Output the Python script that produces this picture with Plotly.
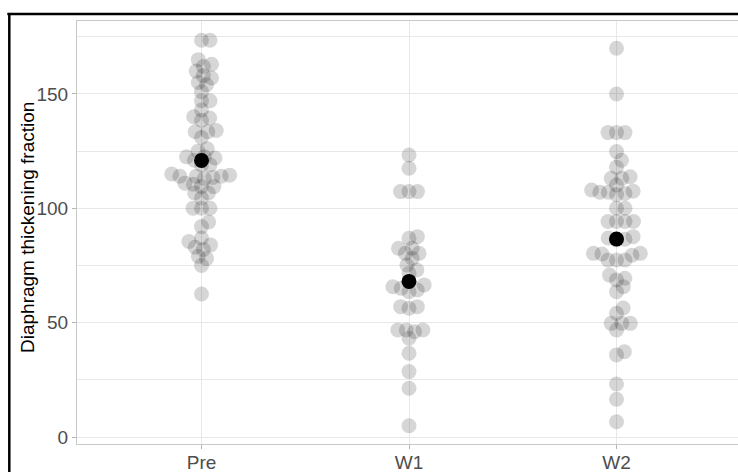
import numpy as np
import plotly.graph_objects as go

# ---------------- data ----------------
categories = ["Pre", "W1", "W2"]

pre_values = [173.5, 173.5, 165, 163, 162, 160, 158, 157, 155, 154, 151, 147, 147,
              143, 140, 139.5, 138.5, 134, 133.5, 133.5, 131, 126, 125, 122, 122.5,
              122.5, 121, 119, 119, 115, 114.5, 114, 114, 114, 113.5, 113, 111, 110.5,
              109.5, 109.5, 106.7, 106.7, 104.5, 100, 100, 100, 94, 92, 87, 85.5, 84,
              83, 82, 79, 78, 75, 62.5]

w1_values = [123.3, 117.5, 107.3, 107.3, 107.3, 87.6, 86.9, 82.5, 82.5, 80.3, 80.3,
             78.1, 75.2, 73, 71.6, 66.5, 65.7, 65, 64.3, 63.5, 57, 57, 56.3, 46.8,
             46.8, 46.8, 46, 43.2, 36.6, 28.6, 21.3, 4.9]

w2_values = [170, 150, 133.1, 133.1, 133.1, 124.8, 121, 118, 113.1, 113.8, 113.1,
             110.2, 107.5, 107, 108, 106.5, 107, 106, 100, 100, 94.2, 94.2, 94.2, 94.2,
             87.6, 87, 86.5, 86.2, 80.3, 80, 79.5, 80.3, 77.4, 77.4, 77.4, 70.8, 69.4,
             68.7, 65.7, 63.5, 56.4, 54.1, 49.7, 49.7, 49.7, 46.8, 37.3, 35.9, 23.2,
             16.5, 6.7]

y_tick_values = [0, 50, 100, 150]
y_title = "Diaphragm thickening fraction"

# ---------------- layout geometry ----------------
W, H = 738, 472
ml, mr, mt, mb = 77, 0, 21, 28
plot_w = W - ml - mr
plot_h = H - mt - mb
cat_px = 207.5
x_range = [0.4, 0.4 + plot_w / cat_px]
y_range = [-3.06, 181.9]
px_per_x = plot_w / (x_range[1] - x_range[0])
px_per_y = plot_h / (y_range[1] - y_range[0])

FONT = "Liberation Sans, Arial, Helvetica, sans-serif"


def swarm_offsets(values, d=8.5):
    """Simple beeswarm: offsets (in x data units) so points sit >= d px apart."""
    vals = np.asarray(values, dtype=float)
    ys = vals * px_per_y
    xs = np.zeros(len(vals))
    placed = []
    for i in np.argsort(vals, kind="stable"):
        y = ys[i]
        cands = [0.0]
        for j in placed:
            dy = abs(y - ys[j])
            if dy < d:
                dx = np.sqrt(d * d - dy * dy)
                cands += [xs[j] + dx, xs[j] - dx]
        cands.sort(key=abs)
        for c in cands:
            if all((c - xs[j]) ** 2 + (y - ys[j]) ** 2 >= d * d - 1e-6 for j in placed):
                xs[i] = c
                break
        placed.append(i)
    return xs / px_per_x


groups = [pre_values, w1_values, w2_values]

fig = go.Figure()

for k, vals in enumerate(groups):
    offs = swarm_offsets(vals)
    fig.add_trace(go.Scatter(
        x=(k + 1) + offs, y=vals, mode="markers",
        marker=dict(size=15, color="rgba(0,0,0,0.16)", line=dict(width=0)),
        showlegend=False, hoverinfo="y"))

means = [float(np.mean(v)) for v in groups]
fig.add_trace(go.Scatter(
    x=[1, 2, 3], y=means, mode="markers",
    marker=dict(size=15, color="black", line=dict(width=0)),
    showlegend=False))

grid_col = "#e8e8e8"
border_col = "#c8c8c8"

fig.update_layout(
    width=W, height=H,
    margin=dict(l=ml, r=mr, t=mt, b=mb, pad=0, autoexpand=False),
    paper_bgcolor="white", plot_bgcolor="white",
    font=dict(family=FONT, size=19, color="#4d4d4d"),
    xaxis=dict(range=x_range, tickvals=[1, 2, 3], ticktext=categories,
               showgrid=True, gridcolor=grid_col, gridwidth=1,
               ticks="outside", ticklen=4, tickcolor="#b3b3b3",
               showline=True, linecolor=border_col, linewidth=1, mirror=True,
               zeroline=False, automargin=False, ticklabelstandoff=-3,
               tickfont=dict(size=19, color="#4d4d4d")),
    yaxis=dict(range=y_range, tickvals=y_tick_values,
               showgrid=True, gridcolor=grid_col, gridwidth=1,
               minor=dict(dtick=25, tick0=25, showgrid=True, gridcolor=grid_col, gridwidth=1),
               ticks="outside", ticklen=4, tickcolor="#b3b3b3",
               showline=True, linecolor=border_col, linewidth=1, mirror=False,
               zeroline=False, automargin=False,
               tickfont=dict(size=19, color="#4d4d4d")),
)

# y-axis title placed precisely as rotated text
fig.add_annotation(text=y_title, xref="paper", yref="paper",
                   x=(27 - ml) / plot_w, y=(H - mb - 228) / plot_h,
                   xanchor="center", yanchor="middle", textangle=-90,
                   showarrow=False, font=dict(size=19, color="black", family=FONT))

# outer black frame (only top and left edges are visible in the reference crop)
x_left_frame = (9.3 - ml) / plot_w
y_top_frame = (H - mb - 14) / plot_h
fig.add_shape(type="line", xref="paper", yref="paper",
              x0=x_left_frame - 0.003, x1=1.05, y0=y_top_frame, y1=y_top_frame,
              line=dict(color="black", width=2.5))
fig.add_shape(type="line", xref="paper", yref="paper",
              x0=x_left_frame, x1=x_left_frame, y0=y_top_frame, y1=-0.2,
              line=dict(color="black", width=2.5))

fig.write_html("out.html", config={"displayModeBar": False},
               post_script="document.body.style.margin='0';document.body.style.padding='0';")
